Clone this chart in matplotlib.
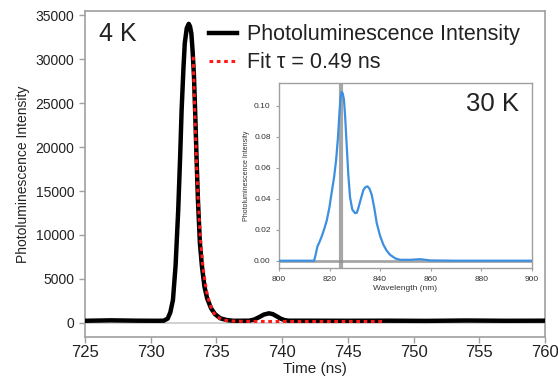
import matplotlib
matplotlib.use("Agg")
import matplotlib.pyplot as plt

plt.rcParams['font.family'] = ['Liberation Sans', 'DejaVu Sans']

# Main time-resolved PL data (ns, counts)
time_ns = [725, 727, 729, 730.5, 731.0, 731.3, 731.5, 731.7, 731.9, 732.1,
           732.25, 732.36, 732.5, 732.6, 732.75, 732.9, 733.0, 733.1, 733.2,
           733.3, 733.4, 733.5, 733.6, 733.75, 733.9, 734.1, 734.3, 734.6,
           734.9, 735.3, 735.8, 736.3, 737.5, 737.9, 738.3, 738.6, 739.0,
           739.3, 739.6, 739.9, 740.2, 740.5, 742, 745, 748, 751, 754, 757, 760]
pl_counts = [250, 300, 260, 250, 260, 500, 1200, 2600, 6500, 12800,
             19000, 24200, 29000, 31800, 33500, 34000, 33700, 32900, 30800,
             28000, 23500, 18500, 14000, 9060, 6500, 4100, 2800, 1670,
             1000, 530, 330, 250, 260, 400, 700, 950, 1100,
             1000, 750, 480, 320, 260, 260, 250, 260, 240, 280, 250, 260]

# Exponential fit curve
fit_t = [733.24, 733.35, 733.5, 733.62, 733.75, 733.9, 734.0, 734.25, 734.5,
         734.75, 735.0, 735.5, 736.0, 737, 739, 742, 745, 747.6]
fit_y = [30260, 24500, 17800, 14000, 10500, 7700, 6150, 3640, 2140,
         1260, 740, 330, 230, 180, 170, 170, 170, 170]

# Inset spectrum (nm, intensity)
wl_nm = [800, 813.9, 814.5, 815.2, 816.0, 816.9, 818.0, 818.9, 819.9, 820.8,
         821.8, 822.6, 823.3, 823.9, 824.4, 824.8, 825.2, 825.7, 826.2, 826.8,
         827.4, 828.1, 829.0, 830.1, 830.8, 831.4, 832.4, 833.4, 834.2, 835.0,
         835.8, 836.7, 837.7, 838.7, 840.0, 841.3, 842.6, 843.9, 846.0, 847.9,
         852, 855.8, 859.8, 870, 900]
spec = [0, 0, 0.004, 0.0092, 0.012, 0.0157, 0.021, 0.026, 0.034, 0.0436,
        0.054, 0.065, 0.079, 0.095, 0.106, 0.109, 0.108, 0.104, 0.092, 0.074,
        0.056, 0.041, 0.033, 0.0307, 0.031, 0.034, 0.040, 0.0457, 0.0475, 0.048,
        0.0465, 0.0425, 0.034, 0.024, 0.016, 0.0103, 0.0065, 0.0039, 0.0015, 0.0006,
        0.0006, 0.001, 0.0002, 0, 0]
marker_wl = 824.5

main_xticks = [725, 730, 735, 740, 745, 750, 755, 760]
main_yticks = [0, 5000, 10000, 15000, 20000, 25000, 30000, 35000]
inset_xticks = [800, 820, 840, 860, 880, 900]
inset_yticks = [0.00, 0.02, 0.04, 0.06, 0.08, 0.10]

spine_c = '#a0a0a0'
text_c = '#222222'

fig = plt.figure(figsize=(5.58, 3.80), dpi=100)
ax = fig.add_axes([0.152, 0.113, 0.825, 0.859])
ax.axhline(0, color='#c8c8c8', lw=1.2, zorder=1)
ax.plot(time_ns, pl_counts, color='black', lw=3.2, label='Photoluminescence Intensity',
        zorder=3, solid_joinstyle='round')
ax.plot(fit_t, fit_y, color='#ff1a1a', lw=2.2, ls=(0, (1.2, 1.2)), label='Fit τ = 0.49 ns', zorder=4)
ax.set_xlim(725, 760)
ax.set_ylim(-1600, 35500)
ax.set_xticks(main_xticks)
ax.set_yticks(main_yticks)
ax.tick_params(axis='both', colors=spine_c, labelcolor=text_c, length=4, width=1)
ax.tick_params(axis='x', labelsize=12, pad=2)
ax.tick_params(axis='y', labelsize=10)
for s in ax.spines.values():
    s.set_color(spine_c)
    s.set_linewidth(1.2)
ax.set_xlabel('Time (ns)', fontsize=11, color=text_c, labelpad=1)
ax.set_ylabel('Photoluminescence Intensity', fontsize=10, color=text_c, labelpad=4)
ax.text(0.03, 0.965, '4 K', transform=ax.transAxes, fontsize=18, color=text_c, va='top', ha='left')
leg = ax.legend(loc='upper left', frameon=False, fontsize=15.5, handlelength=1.3,
                handletextpad=0.47, borderaxespad=0, labelspacing=0.33,
                bbox_to_anchor=(0.25, 0.985))
for t in leg.get_texts():
    t.set_color(text_c)

ins = fig.add_axes([0.5, 0.2947, 0.453, 0.4873])
ins.axhline(0, color='#909090', lw=2, alpha=0.8, zorder=1)
ins.axvline(marker_wl, color='#909090', lw=3, alpha=0.8, zorder=1)
ins.plot(wl_nm, spec, color='#3d8fe0', lw=1.6, zorder=3, solid_joinstyle='round')
ins.set_xlim(800, 900)
ins.set_ylim(-0.0047, 0.1148)
ins.set_xticks(inset_xticks)
ins.set_yticks(inset_yticks)
ins.set_yticklabels([f'{v:.2f}' for v in inset_yticks])
ins.tick_params(axis='both', colors=spine_c, labelcolor='#333333', labelsize=6, length=2.5, width=0.8)
for s in ins.spines.values():
    s.set_color(spine_c)
    s.set_linewidth(1.0)
ins.set_xlabel('Wavelength (nm)', fontsize=6, color='#333333', labelpad=1)
ins.set_ylabel('Photoluminescence Intensity', fontsize=5, color='#333333', labelpad=3)
ins.text(0.95, 0.95, '30 K', transform=ins.transAxes, fontsize=18.5, color=text_c, va='top', ha='right')

fig.savefig('out.png', dpi=100)
